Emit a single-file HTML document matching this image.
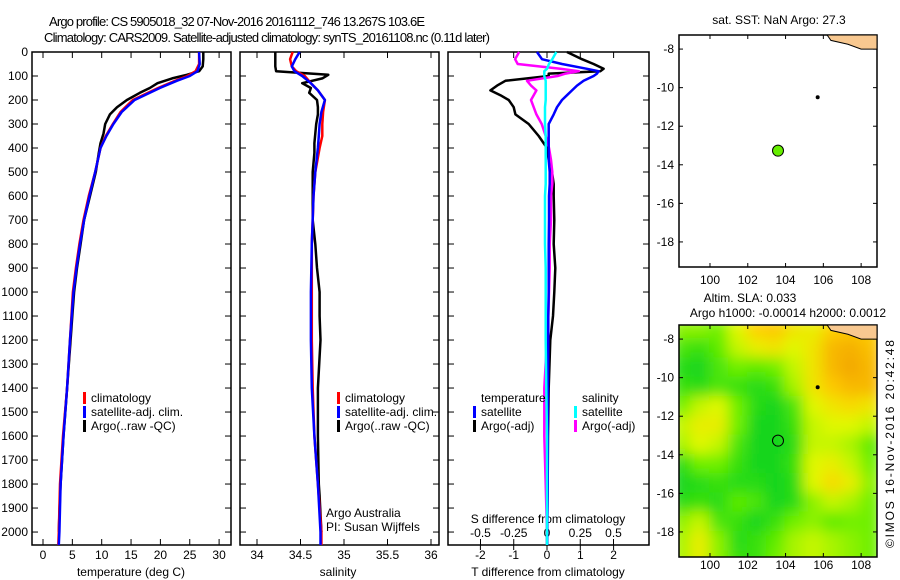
<!DOCTYPE html>
<html><head><meta charset="utf-8"><style>
body{margin:0;background:#fff;}
svg{display:block;font-family:"Liberation Sans",sans-serif;}
text{fill:#000;}
</style></head><body>
<svg id="c" width="900" height="580" xmlns="http://www.w3.org/2000/svg">
<defs>
<filter id="blur" x="0" y="0" width="1" height="1"><feGaussianBlur stdDeviation="7"/></filter>
<clipPath id="mapclip"><rect x="679" y="325" width="198" height="232"/></clipPath>
</defs>
<text x="49" y="26" font-size="13" textLength="376">Argo profile: CS 5905018_32 07-Nov-2016 20161112_746 13.267S 103.6E</text>
<text x="44" y="42" font-size="13" textLength="446">Climatology: CARS2009. Satellite-adjusted climatology: synTS_20161108.nc (0.11d later)</text>
<text x="779" y="24" font-size="12" text-anchor="middle">sat. SST: NaN Argo: 27.3</text>
<text x="750" y="302" font-size="12" text-anchor="middle">Altim. SLA: 0.033</text>
<text x="788" y="317" font-size="12" text-anchor="middle">Argo h1000: -0.00014 h2000: 0.0012</text>
<text transform="translate(894,548) rotate(-90)" font-size="12" textLength="208">©IMOS 16-Nov-2016 20:42:48</text>
<g id="g"></g>
</svg>
<script>
// ---- data ----
const tDepth=[0,50,80,100,120,150,200,250,300,350,400,500,600,700,800,900,1000,1200,1400,1600,1800,2000,2054];
const tClim=[26.6,26.6,26.0,24.6,22.5,19.6,15.3,13.2,11.9,10.7,9.8,8.9,7.8,6.9,6.2,5.6,5.1,4.6,4.1,3.4,2.9,2.7,2.6];
const tSat=[26.6,26.7,26.3,25.0,22.8,19.9,15.6,13.4,12.0,10.8,9.8,8.9,7.9,7.0,6.3,5.7,5.2,4.6,4.1,3.5,3.0,2.8,2.7];
const argoDepth=[0,30,60,80,95,110,130,150,170,200,230,260,300,340,380,420,500,600,700,800,900,1000,1100,1200,1400,1600,1800,1850,2000];
const tArgo=[27.3,27.3,27.2,26.6,24.5,22.0,19.5,18.2,16.5,14.3,12.6,11.4,10.6,10.3,9.8,9.5,9.0,8.0,7.0,6.4,5.8,5.3,5.0,4.7,4.1,3.5,3.0,2.9,2.7];
const sDepth=[0,30,60,80,100,130,160,200,250,300,350,400,500,600,700,800,1000,1200,1400,1600,1800,2000,2054];
const sClim=[34.41,34.38,34.40,34.45,34.55,34.62,34.70,34.78,34.76,34.75,34.75,34.72,34.67,34.65,34.64,34.63,34.63,34.63,34.64,34.66,34.70,34.74,34.74];
const sSat=[34.49,34.44,34.40,34.43,34.52,34.62,34.70,34.78,34.74,34.72,34.71,34.70,34.67,34.65,34.64,34.63,34.62,34.62,34.63,34.66,34.70,34.73,34.73];
const sArgo=[34.21,34.21,34.21,34.22,34.82,34.75,34.52,34.62,34.60,34.69,34.70,34.70,34.68,34.67,34.66,34.66,34.64,34.64,34.64,34.67,34.69,34.72,34.72,34.73,34.70,34.70,34.71,34.72,34.74];
const dDepth=[0,30,50,70,80,90,100,120,140,160,180,200,230,260,300,350,400,450,500,550,600,700,800,900,1000,1100,1200,1400,1600,1800,2000,2054];
const dTArgo=[0.6,1.05,1.4,1.7,1.6,0.05,0.05,-1.25,-1.5,-1.7,-1.4,-1.15,-1.0,-0.95,-0.55,-0.25,0.0,0.05,0.15,0.2,0.2,0.22,0.2,0.25,0.22,0.18,0.1,0.05,0.03,0.02,0.0,0.0];
const dTSat=[-0.3,-0.15,0.45,1.2,1.55,1.5,1.4,1.1,0.9,0.75,0.6,0.45,0.3,0.2,0.05,0.05,0.05,0.05,0.08,0.08,0.06,0.06,0.05,0.05,0.05,0.04,0.04,0.03,0.02,0.02,0.01,0.01];
const dSArgo=[-0.21,-0.24,-0.22,0.1,0.24,0.14,0.08,-0.15,-0.12,-0.08,-0.1,-0.12,-0.1,-0.08,-0.04,-0.01,0.015,0.03,0.04,0.04,0.03,0.03,0.02,0.02,0.015,0.01,0.0,-0.02,-0.02,-0.01,0.0,0.0];
const dSSat=[0.07,0.04,0.015,0.0,-0.02,-0.02,-0.02,-0.01,-0.01,-0.01,-0.01,-0.01,-0.015,-0.015,-0.015,-0.01,-0.01,-0.01,-0.01,-0.01,-0.015,-0.015,-0.015,-0.01,-0.01,-0.01,-0.01,-0.005,0.0,0.0,0.0,0.0];
const depthTicks=[0,100,200,300,400,500,600,700,800,900,1000,1100,1200,1300,1400,1500,1600,1700,1800,1900,2000];
const tTicks=[0,5,10,15,20,25,30];
const sTicks=[34,34.5,35,35.5,36];
const dTTicks=[-2,-1,0,1,2];
const dSTicks=[-0.5,-0.25,0,0.25,0.5];
const lonTicks=[100,102,104,106,108];
const latTicks=[-8,-10,-12,-14,-16,-18];
const gridLons=[98.5,99.5,100.5,101.5,102.5,103.5,104.5,105.5,106.5,107.5,108.5];
const gridLats=[-7.5,-8.5,-9.5,-10.5,-11.5,-12.5,-13.5,-14.5,-15.5,-16.5,-17.5,-18.5,-19.5];
const sla=[
[0.35,0.35,0.3,0.5,0.7,0.75,0.6,0.55,0.7,0.75,0.7],
[0.2,0.15,0.25,0.45,0.55,0.6,0.5,0.6,0.85,0.9,0.8],
[0.1,0.05,0.2,0.3,0.25,0.3,0.45,0.6,0.85,0.95,0.85],
[0.15,0.1,0.2,0.15,0.1,0.15,0.4,0.6,0.75,0.85,0.85],
[0.3,0.45,0.5,0.3,0.1,0.05,0.2,0.5,0.6,0.65,0.6],
[0.45,0.55,0.55,0.3,0.05,0.05,0.15,0.45,0.5,0.5,0.45],
[0.4,0.5,0.45,0.2,0.05,0.05,0.1,0.45,0.45,0.4,0.25],
[0.1,0.3,0.3,0.15,0.05,0.05,0.15,0.5,0.55,0.45,0.3],
[0.05,0.1,0.15,0.1,0.1,0.05,0.1,0.5,0.65,0.55,0.35],
[0.1,0.15,0.1,0.25,0.2,0.05,0.1,0.35,0.45,0.4,0.3],
[0.35,0.45,0.2,0.15,0.05,0.15,0.3,0.35,0.25,0.3,0.3],
[0.4,0.55,0.35,0.1,0.15,0.25,0.4,0.45,0.4,0.35,0.3],
[0.4,0.55,0.35,0.15,0.15,0.3,0.4,0.45,0.4,0.35,0.3]];
const argoLon=103.6, argoLat=-13.267;

// ---- drawing ----
const NS="http://www.w3.org/2000/svg";
const G=document.getElementById('g');
function el(tag,attrs,parent){const e=document.createElementNS(NS,tag);for(const k in attrs)e.setAttribute(k,attrs[k]);(parent||G).appendChild(e);return e;}
function txt(x,y,s,size,anchor,parent){const e=el('text',{x:x,y:y,'font-size':size||12,'text-anchor':anchor||'start'},parent);e.textContent=s;return e;}
const Y0=52,Y1=545,DMAX=2054;
const yD=d=>Y0+d/DMAX*(Y1-Y0);
const P1={x0:32,x1:231,f:v=>43+v*5.87};
const P2={x0:240,x1:439,f:v=>257+(v-34)*87};
const P3={x0:448,x1:649,f:v=>547+v*33.3,fs:v=>547+v*133};
function frame(p,name){
  const r=el('rect',{x:p.x0,y:Y0,width:p.x1-p.x0,height:Y1-Y0,fill:'none',stroke:'#000','stroke-width':1.5});
  
  
}
function line(p,f,vals,depths,color,name,w){
  const pts=vals.map((v,i)=>f(v).toFixed(1)+','+yD(depths[i]).toFixed(1)).join(' ');
  const e=el('polyline',{points:pts,fill:'none',stroke:color,'stroke-width':w||2.5,'stroke-linejoin':'round'});
  
  
}
function xTicks(p,f,ticks,labels,ly){
  ticks.forEach((t,i)=>{const x=f(t);
    el('line',{x1:x,x2:x,y1:Y1,y2:Y1-6,stroke:'#000'});
    el('line',{x1:x,x2:x,y1:Y0,y2:Y0+6,stroke:'#000'});
    const l=txt(x,ly,labels[i],12,'middle');
    
    });
}
// depth axis
depthTicks.forEach(d=>{
  const l=txt(28,yD(d)+4,String(d),12,'end');
  
  
  [P1,P2,P3].forEach(p=>{el('line',{x1:p.x0,x2:p.x0+6,y1:yD(d),y2:yD(d),stroke:'#000'});el('line',{x1:p.x1,x2:p.x1-6,y1:yD(d),y2:yD(d),stroke:'#000'});});
});
// panel 1
frame(P1,'temperature-panel');
xTicks(P1,P1.f,tTicks,tTicks.map(String),559);
let t=txt(131,576,'temperature (deg C)',12,'middle');
line(P1,P1.f,tArgo,argoDepth,'#000','temperature-argo-line');
line(P1,P1.f,tClim,tDepth,'#f00','temperature-climatology-line');
line(P1,P1.f,tSat,tDepth,'#00f','temperature-satellite-line');
// panel 2
frame(P2,'salinity-panel');
xTicks(P2,P2.f,sTicks,sTicks.map(String),559);
P2.f(36);
t=txt(338,576,'salinity',12,'middle');
line(P2,P2.f,sArgo,argoDepth,'#000','salinity-argo-line');
line(P2,P2.f,sClim,sDepth,'#f00','salinity-climatology-line');
line(P2,P2.f,sSat,sDepth,'#00f','salinity-satellite-line');
t=txt(326,517,'Argo Australia',12);
t=txt(326,531,'PI: Susan Wijffels',12);
// panel 3
frame(P3,'difference-panel');
dTTicks.forEach(v=>{const x=P3.f(v);el('line',{x1:x,x2:x,y1:Y0,y2:Y0+6,stroke:'#000'});el('line',{x1:x,x2:x,y1:Y1,y2:Y1+5,stroke:'#000'});
  const l=txt(x,559,String(v),12,'middle');});
dSTicks.forEach(v=>{const x=P3.fs(v);el('line',{x1:x,x2:x,y1:Y1,y2:Y1-6,stroke:'#000'});
  const l=txt(x,537,String(v),12,'middle');});
t=txt(548,523,'S difference from climatology',12,'middle');
t=txt(548,576,'T difference from climatology',12,'middle');
line(P3,P3.f,dTArgo,dDepth,'#000','t-diff-argo-line');
line(P3,P3.fs,dSArgo,dDepth,'#f0f','s-diff-argo-line');
line(P3,P3.f,dTSat,dDepth,'#00f','t-diff-satellite-line');
line(P3,P3.fs,dSSat,dDepth,'#0ff','s-diff-satellite-line');
// legends
function leg(x,y,color,label,name){
  const b=el('rect',{x:x,y:y-10,width:3,height:12,fill:color});
  const l=txt(x+8,y,label,12);
  
  
}
leg(83,402,'#f00','climatology','legend-climatology');
leg(83,416,'#00f','satellite-adj. clim.','legend-satellite-adj');
leg(83,430,'#000','Argo(..raw -QC)','legend-argo');
leg(337,402,'#f00','climatology','legend-climatology-2');
leg(337,416,'#00f','satellite-adj. clim.','legend-satellite-adj-2');
leg(337,430,'#000','Argo(..raw -QC)','legend-argo-2');
t=txt(481,402,'temperature',12);
t=txt(582,402,'salinity',12);
leg(473,416,'#00f','satellite','legend-t-satellite');
leg(473,430,'#000','Argo(-adj)','legend-t-argo');
leg(574,416,'#0ff','satellite','legend-s-satellite');
leg(574,430,'#f0f','Argo(-adj)','legend-s-argo');
// maps
const MX0=679,MX1=877,LON0=98.36,LON1=108.84,LAT0=-7.27,LAT1=-19.30;
const lx=v=>MX0+(v-LON0)/(LON1-LON0)*(MX1-MX0);
function mapAxes(y0,y1,labelY,name){
  const ly=v=>y0+(v-LAT0)/(LAT1-LAT0)*(y1-y0);
  lonTicks.forEach(v=>{el('line',{x1:lx(v),x2:lx(v),y1:y0,y2:y0+4,stroke:'#000'});el('line',{x1:lx(v),x2:lx(v),y1:y1,y2:y1-4,stroke:'#000'});
    const l=txt(lx(v),labelY,String(v),12,'middle');});
  latTicks.forEach(v=>{el('line',{x1:MX0,x2:MX0+4,y1:ly(v),y2:ly(v),stroke:'#000'});el('line',{x1:MX1,x2:MX1-4,y1:ly(v),y2:ly(v),stroke:'#000'});
    const l=txt(674,ly(v)+4,String(v),12,'end');});
  const r=el('rect',{x:MX0,y:y0,width:MX1-MX0,height:y1-y0,fill:'none',stroke:'#000','stroke-width':1.5});
  
  
  return ly;
}
function cmap(v){
  const stops=[[0,[0,208,32]],[0.3,[112,240,0]],[0.5,[224,248,0]],[0.7,[255,208,0]],[1,[240,160,0]]];
  for(let i=1;i<stops.length;i++){if(v<=stops[i][0]){const a=stops[i-1],b=stops[i],f=(v-a[0])/(b[0]-a[0]);
    return 'rgb('+a[1].map((c,k)=>Math.round(c+(b[1][k]-c)*f)).join(',')+')';}}
  return 'rgb(240,160,0)';
}
function land(ly){
  const pts=[[106.2,-7.27],[106.4,-7.55],[107.3,-7.75],[108.0,-8.0],[108.84,-8.0],[108.84,-7.27]];
  const e=el('polygon',{points:pts.map(p=>lx(p[0])+','+ly(p[1])).join(' '),fill:'#f8c890',stroke:'#000','stroke-width':1});
  
  
}
// top map
const ly1=mapAxes(35,267,284,'sst-map-frame');
land(ly1);
el('circle',{cx:lx(105.7),cy:ly1(-10.5),r:2,fill:'#000'});
let c=el('circle',{cx:lx(argoLon),cy:ly1(argoLat),r:5.5,fill:'#66ee00',stroke:'#000','stroke-width':1});


// bottom map
const ly2=v=>325+(v-LAT0)/(LAT1-LAT0)*232;
const hg=el('g',{'clip-path':'url(#mapclip)'});
const hb=el('g',{filter:'url(#blur)'},hg);
const cw=(MX1-MX0)/(LON1-LON0), ch=232/(LAT0-LAT1);
gridLats.forEach((la,i)=>gridLons.forEach((lo,j)=>{
  const r=el('rect',{x:lx(lo)-cw/2-1,y:ly2(la)-ch/2-1,width:cw+2,height:ch+2,fill:cmap(sla[i][j])},hb);
  
  
}));
el('rect',{x:lx(LON0)-30,y:ly2(gridLats[0])-40,width:10,height:10,fill:'none'},hb);
const ly2b=mapAxes(325,557,569,'sla-map-frame');
land(ly2b);
el('circle',{cx:lx(105.7),cy:ly2b(-10.5),r:2,fill:'#000'});
c=el('circle',{cx:lx(argoLon),cy:ly2b(argoLat),r:5.5,fill:'none',stroke:'#000','stroke-width':1});


</script>
</body></html>
